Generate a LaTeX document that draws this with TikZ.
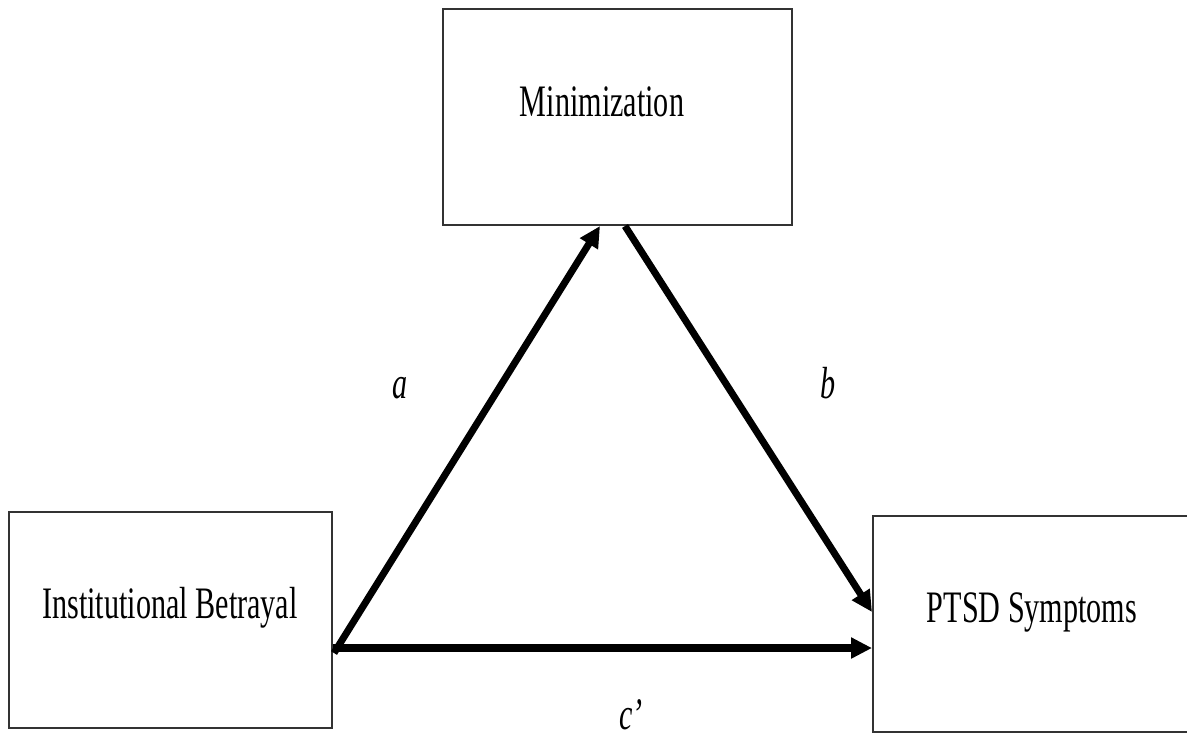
\documentclass[tikz,border=0pt]{standalone}
\usepackage{fontspec}
\setmainfont{Liberation Serif}
\usetikzlibrary{arrows.meta,calc}
\begin{document}
\begin{tikzpicture}[x=0.5pt,y=-0.5pt,
  box/.style={draw=black!80,line width=1pt,rectangle,inner sep=0pt},
  boxtext/.style={anchor=base,inner sep=0pt,font=\fontsize{22.5}{27}\selectfont},
  lbl/.style={anchor=base,inner sep=0pt,font=\fontsize{22.5}{27}\selectfont\itshape},
  path/.style={line width=3.5pt,-{Triangle[length=10.5pt,width=10pt]},shorten >=0pt}
]
\useasboundingbox[fill=white] (0,0) rectangle (1187,736);
% boxes
\node[box,minimum width=174.5pt,minimum height=108pt] (min) at (617.5,117) {};
\node[box,minimum width=161.5pt,minimum height=108pt] (inst) at (170.5,620) {};
\node[box,minimum width=159pt,minimum height=108pt] (ptsd) at (1032,623.5) {};
% texts
\node[boxtext] (tmin) at (602,116) {\scalebox{0.67}[1]{Minimization}};
\node[boxtext] (tinst) at (170,618) {\scalebox{0.67}[1]{Institutional Betrayal}};
\node[boxtext] (tptsd) at (1032,622) {\scalebox{0.67}[1]{PTSD Symptoms}};
% connectors
\coordinate (aS) at ($(inst.east)+(1,33)$);
\coordinate (aE) at ($(min.south)+(-17.5,0)$);
\coordinate (bS) at ($(min.south)+(7.5,0)$);
\coordinate (bE) at ($(ptsd.west)+(0,-11.5)$);
\coordinate (cS) at ($(inst.east)+(0,28)$);
\coordinate (cE) at ($(ptsd.west)+(0,24.5)$);
\draw[path] (aS) -- (aE);
\draw[path] (bS) -- (bE);
\draw[path,line width=4pt] (cS) -- (cE);
% labels
\node[lbl] (la) at (400,398) {\scalebox{0.67}[1]{a}};
\node[lbl] (lb) at (828,398) {\scalebox{0.67}[1]{b}};
\node[lbl] (lc) at (631,729) {\scalebox{0.67}[1]{c’}};
\end{tikzpicture}
\end{document}
